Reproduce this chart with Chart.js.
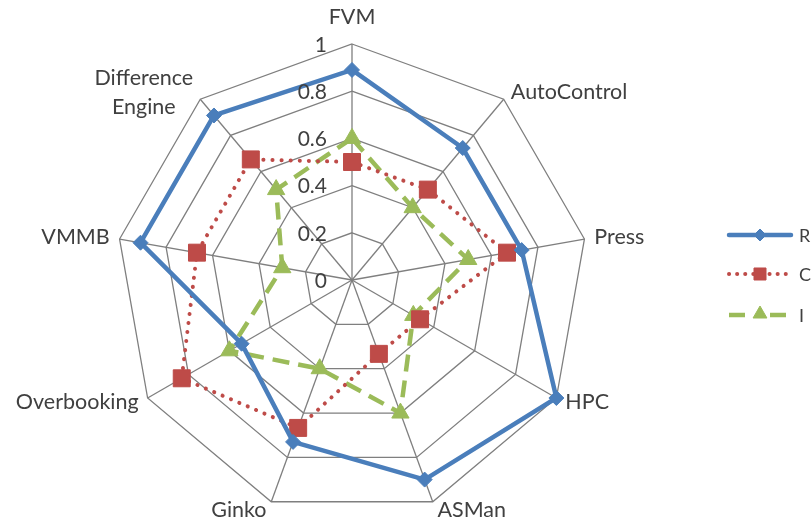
<!DOCTYPE html>
<html>
<head>
<meta charset="utf-8">
<script src="https://cdn.jsdelivr.net/npm/chart.js@4.4.1/dist/chart.umd.min.js"></script>
<style>
  html, body { margin: 0; padding: 0; background: #ffffff; }
  #wrap { width: 812px; height: 523px; }
</style>
</head>
<body>
<div id="wrap"><canvas id="radar" width="812" height="523"></canvas></div>
<script>
// Axes of the radar, clockwise from the top
const categories = ['FVM', 'AutoControl', 'Press', 'HPC', 'ASMan', 'Ginko', 'Overbooking', 'VMMB', ['Difference', 'Engine']];

// Series values per axis
const seriesR = [0.89, 0.73, 0.73, 1.00, 0.90, 0.73, 0.54, 0.91, 0.91];
const seriesC = [0.50, 0.50, 0.667, 0.333, 0.333, 0.667, 0.833, 0.667, 0.667];
const seriesI = [0.60, 0.40, 0.50, 0.30, 0.60, 0.40, 0.60, 0.30, 0.50];

// Radial tick labels
const tickValues = [0, 0.2, 0.4, 0.6, 0.8, 1];
const tickLabels = ['0', '0.2', '0.4', '0.6', '0.8', '1'];

const FONT = 'Lato, "Open Sans", sans-serif';
const TEXT = '#404040';
const BLUE = '#4a7ebb';
const RED = '#be4b48';
const GREEN = '#9bbb59';
const GRID = '#7f7f7f';

// Legend entries drawn to the right of the radar
const legendItems = [
  { text: 'R', color: BLUE, dash: [], cap: 'butt', style: 'rectRot', radius: 6 },
  { text: 'C', color: RED, dash: [0.1, 8], cap: 'round', style: 'rect', radius: 8.5 },
  { text: 'I', color: GREEN, dash: [16, 9], cap: 'butt', style: 'triangle', radius: 8 }
];

const annotations = {
  id: 'annotations',
  afterDraw(chart) {
    const ctx = chart.ctx;
    const scale = chart.scales.r;
    const R = scale.drawingArea;
    ctx.save();

    // tick labels along the vertical axis
    ctx.fillStyle = TEXT;
    ctx.font = '21px ' + FONT;
    ctx.textAlign = 'right';
    ctx.textBaseline = 'middle';
    tickValues.forEach((v, i) => {
      const d = scale.getDistanceFromCenterForValue(v);
      ctx.fillText(tickLabels[i], scale.xCenter - 25, scale.yCenter - d + 1);
    });

    // axis labels outside each spoke
    ctx.font = '21.5px ' + FONT;
    const lineH = 29;
    categories.forEach((lab, i) => {
      const lines = Array.isArray(lab) ? lab : [lab];
      const p = scale.getPointPosition(i, R);
      const ang = p.angle;
      const c = Math.cos(ang), s = Math.sin(ang);
      const widths = lines.map(t => ctx.measureText(t).width);
      const bw = Math.max(...widths);
      const bh = lines.length * lineH;
      let left;
      let cy;
      if (Math.abs(c) < 0.05) {
        left = p.x - bw / 2;
        cy = p.y + s * (16 + bh / 2 - 4);
      } else {
        const off = 2 + 8 * Math.abs(c);
        left = c > 0 ? p.x + off : p.x - off - bw;
        cy = p.y + 9 * s;
      }
      ctx.textAlign = 'center';
      lines.forEach((t, k) => {
        const y = cy - bh / 2 + lineH * (k + 0.5);
        ctx.fillText(t, left + bw / 2, y);
      });
    });

    // legend
    ctx.font = '18px ' + FONT;
    ctx.textAlign = 'left';
    const ly = [235, 274, 315];
    legendItems.forEach((it, i) => {
      const y = ly[i];
      ctx.save();
      ctx.strokeStyle = it.color;
      ctx.lineWidth = it.style === 'rect' ? 4 : 4.5;
      ctx.lineCap = it.cap;
      ctx.setLineDash(it.dash);
      ctx.beginPath();
      if (it.style === 'triangle') {
        ctx.moveTo(729, y); ctx.lineTo(750, y);
        ctx.moveTo(770, y); ctx.lineTo(791, y);
      } else if (it.style === 'rect') {
        ctx.moveTo(729, y); ctx.lineTo(792, y);
      } else {
        ctx.lineCap = 'round';
        ctx.moveTo(729, y); ctx.lineTo(791, y);
      }
      ctx.stroke();
      ctx.restore();
      ctx.fillStyle = it.color;
      ctx.strokeStyle = it.color;
      ctx.lineWidth = 1;
      Chart.helpers.drawPoint(ctx, { pointStyle: it.style, radius: it.radius, borderWidth: 1, rotation: 0 }, 760, it.style === 'triangle' ? y - 1 : y);
      ctx.fillStyle = TEXT;
      ctx.textBaseline = 'middle';
      ctx.fillText(it.text, 799, y + 1);
    });
    ctx.restore();
  }
};

new Chart(document.getElementById('radar'), {
  type: 'radar',
  data: {
    labels: categories,
    datasets: [
      {
        label: 'R',
        data: seriesR,
        borderColor: BLUE,
        backgroundColor: BLUE,
        borderWidth: 4.5,
        fill: false,
        pointStyle: 'rectRot',
        pointRadius: 7.5,
        pointBorderWidth: 1,
        pointBackgroundColor: BLUE,
        pointBorderColor: BLUE
      },
      {
        label: 'C',
        data: seriesC,
        borderColor: RED,
        backgroundColor: RED,
        borderWidth: 4,
        borderDash: [0.1, 9],
        borderCapStyle: 'round',
        fill: false,
        pointStyle: 'rect',
        pointRadius: 12,
        pointBorderWidth: 1,
        pointBackgroundColor: RED,
        pointBorderColor: RED
      },
      {
        label: 'I',
        data: seriesI,
        borderColor: GREEN,
        backgroundColor: GREEN,
        borderWidth: 4.5,
        borderDash: [17, 9],
        fill: false,
        pointStyle: 'triangle',
        pointRadius: 10,
        pointBorderWidth: 1,
        pointBackgroundColor: GREEN,
        pointBorderColor: GREEN
      }
    ]
  },
  options: {
    responsive: false,
    animation: false,
    devicePixelRatio: 1,
    layout: { padding: { left: 116, right: 224, top: 44, bottom: 7 } },
    elements: { line: { tension: 0 } },
    plugins: {
      legend: { display: false },
      tooltip: { enabled: false }
    },
    scales: {
      r: {
        min: 0,
        max: 1,
        beginAtZero: true,
        ticks: { stepSize: 0.2, display: false },
        pointLabels: { display: false },
        grid: { color: GRID, lineWidth: 1.3 },
        angleLines: { color: GRID, lineWidth: 1.3 }
      }
    }
  },
  plugins: [annotations]
});
</script>
</body>
</html>
